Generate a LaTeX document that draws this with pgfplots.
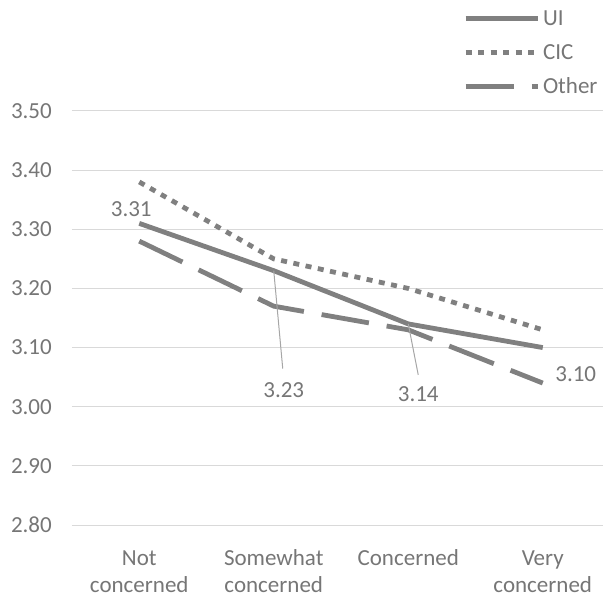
\documentclass[border=0pt]{standalone}
\usepackage{fontspec}
\setmainfont{Carlito}
\usepackage{pgfplots}
\pgfplotsset{compat=1.18}

\definecolor{txt}{RGB}{118,118,118}
\definecolor{ln}{RGB}{128,128,128}
\definecolor{grd}{RGB}{217,217,217}
\definecolor{ldr}{RGB}{166,166,166}
\newcommand\chartfont{\fontsize{23bp}{27bp}\selectfont}

\begin{document}
\begin{tikzpicture}[series/.style={ln, line width=4.8bp, line cap=butt, line join=round, mark=none}]
\path[use as bounding box] (-72bp,-75bp) rectangle (531bp,525bp);
\begin{axis}[
  at={(0,0)}, anchor=south west,
  scale only axis, width=538bp, height=414bp,
  xmin=-0.5, xmax=3.5, ymin=2.8, ymax=3.5,
  xtick={0,1,2,3},
  xticklabels={{\strut Not\\concerned},{\strut Somewhat\\concerned},{\strut Concerned},{\strut Very\\concerned}},
  ytick={2.8,2.9,3.0,3.1,3.2,3.3,3.4,3.5},
  yticklabel={\pgfmathprintnumber[fixed,fixed zerofill,precision=2]{\tick}},
  /pgf/number format/assume math mode=true,
  axis line style={draw=none},
  tick style={draw=none},
  ymajorgrids, major grid style={grd, line width=1bp},
  tick label style={font=\chartfont, text=txt, inner sep=0pt},
  xticklabel style={align=center, anchor=north, yshift=-21bp},
  yticklabel style={anchor=east, xshift=-20bp},
  clip=false,
  legend cell align=left,
  legend image code/.code={\draw[#1] (0bp,0bp) -- (72bp,0bp);},
  legend style={at={(0.7268,1.2428)}, anchor=north west, draw=none, fill=none,
    font=\chartfont, text=txt, inner sep=0pt, row sep=19bp,
    nodes={inner sep=0pt, text height=15bp, text depth=0bp},
    /tikz/every odd column/.append style={column sep=3bp}},
]
% mean scores by level of concern
\addplot[series] coordinates {(0,3.31) (1,3.23) (2,3.14) (3,3.10)};
\addlegendentry{UI}
\addplot[series, dash pattern=on 6bp off 6.5bp] coordinates {(0,3.38) (1,3.25) (2,3.20) (3,3.13)};
\addlegendentry{CIC}
\addplot[series, dash pattern=on 48bp off 18bp] coordinates {(0,3.28) (1,3.17) (2,3.13) (3,3.04)};
\addlegendentry{Other}

% data labels for the UI series
\begin{scope}[every node/.style={font=\chartfont, text=txt, inner sep=0pt}]
\node at ([shift={(-8bp,14bp)}]axis cs:0,3.31) {3.31};
\draw[ldr, line width=1bp] (axis cs:1,3.23) -- ++(9bp,-98bp);
\node at ([shift={(10bp,-119bp)}]axis cs:1,3.23) {3.23};
\draw[ldr, line width=1bp] (axis cs:2,3.14) -- ++(10bp,-51bp);
\node at ([shift={(10bp,-70bp)}]axis cs:2,3.14) {3.14};
\node at ([shift={(33bp,-27bp)}]axis cs:3,3.10) {3.10};
\end{scope}
\end{axis}
\end{tikzpicture}
\end{document}
